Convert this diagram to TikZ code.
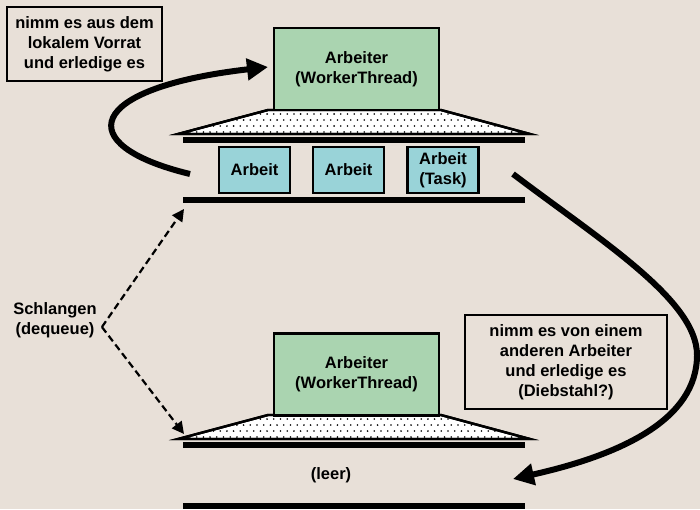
\documentclass[tikz,border=0pt]{standalone}
\usepackage{fontspec}
\setmainfont{Liberation Sans}
\usetikzlibrary{arrows.meta}
\definecolor{paper}{RGB}{232,224,216}
\definecolor{workergreen}{RGB}{170,212,176}
\definecolor{taskblue}{RGB}{153,211,216}
\begin{document}
\begin{tikzpicture}[x=1pt,y=-1pt,
  font=\bfseries\fontsize{16.5}{20}\selectfont,
  worker/.style={draw, line width=2.5pt, fill=workergreen, minimum width=165pt, minimum height=82pt, align=center, inner sep=0pt},
  taskbox/.style={draw, line width=2.5pt, fill=taskblue, minimum width=71pt, minimum height=46pt, align=center, inner sep=0pt},
  notebox/.style={draw, line width=2.6pt, align=center, inner sep=0pt},
  plain/.style={align=center, inner sep=0pt},
  bar/.style={line width=6pt},
  shelf/.style={draw, line width=2.4pt, fill=white, line join=miter},
  bigarrow/.style={line width=6pt, -{Triangle[length=21pt,width=21pt]}},
  pointer/.style={line width=2.2pt, dash pattern=on 7pt off 4pt, -{Triangle[length=12pt,width=12pt]}}
]
\fill[paper] (0,0) rectangle (700,509);
\useasboundingbox (0,0) rectangle (700,509);

% dotted platform under a worker, top edge at y=#1
\newcommand{\platform}[1]{%
  \begin{scope}[yshift=-#1pt]
    \path[shelf] (268,0) -- (441,0) -- (530,24) -- (178,24) -- cycle;
    \begin{scope}
      \clip (268,0) -- (441,0) -- (530,24) -- (178,24) -- cycle;
      \foreach \r in {0,2} \foreach \c in {0,...,55}
        \fill (180+\c*6.7, 4+\r*6) circle (0.9pt);
      \foreach \r in {1,3} \foreach \c in {0,...,55}
        \fill (183.3+\c*6.7, 4+\r*6) circle (0.9pt);
    \end{scope}
    \path[shelf, fill=none] (268,0) -- (441,0) -- (530,24) -- (178,24) -- cycle;
  \end{scope}}

% upper worker with its queue
\platform{110}
\node[worker] (w1) at (356.5,69) {Arbeiter\\(WorkerThread)};
\draw[bar] (183,139.5) -- (525,139.5);
\node[taskbox] (t1) at (254.5,170) {Arbeit};
\node[taskbox] (t2) at (348.5,170) {Arbeit};
\node[taskbox] (t3) at (443,170) {Arbeit\\(Task)};
\draw[bar] (183,200) -- (525,200);

% lower worker with its empty queue
\platform{415}
\node[worker] (w2) at (356.5,374.5) {Arbeiter\\(WorkerThread)};
\draw[bar] (183,444.5) -- (525,444.5);
\node[plain] (empty) at (331,475) {(leer)};
\draw[bar] (183,506) -- (525,506);

% notes
\node[notebox, minimum width=155pt, minimum height=74pt] (local) at (84.5,44) {nimm es aus dem\\lokalem Vorrat\\und erledige es};
\node[notebox, minimum width=202pt, minimum height=94pt] (steal) at (566,362) {nimm es von einem\\anderen Arbeiter\\ und erledige es\\(Diebstahl?)};
\node[plain] (queues) at (55,320) {Schlangen\\(dequeue)};

% connectors
\coordinate (qa) at (184,209);
\coordinate (qb) at (184,434);
\coordinate (ownstart) at (190,174);
\coordinate (owntip) at (268,67);
\coordinate (stealstart) at (513,174);
\coordinate (stealtip) at (513,479);
\draw[pointer] (queues.east) ++(5,7) coordinate (qsrc) -- (qa);
\draw[pointer] (qsrc) -- (qb);
\draw[bigarrow] (ownstart) .. controls (70,145) and (85,88) .. (owntip);
\draw[bigarrow] (stealstart) .. controls (600,240) and (697,300) .. (697,355)
  .. controls (697,420) and (620,455) .. (stealtip);
\end{tikzpicture}
\end{document}
